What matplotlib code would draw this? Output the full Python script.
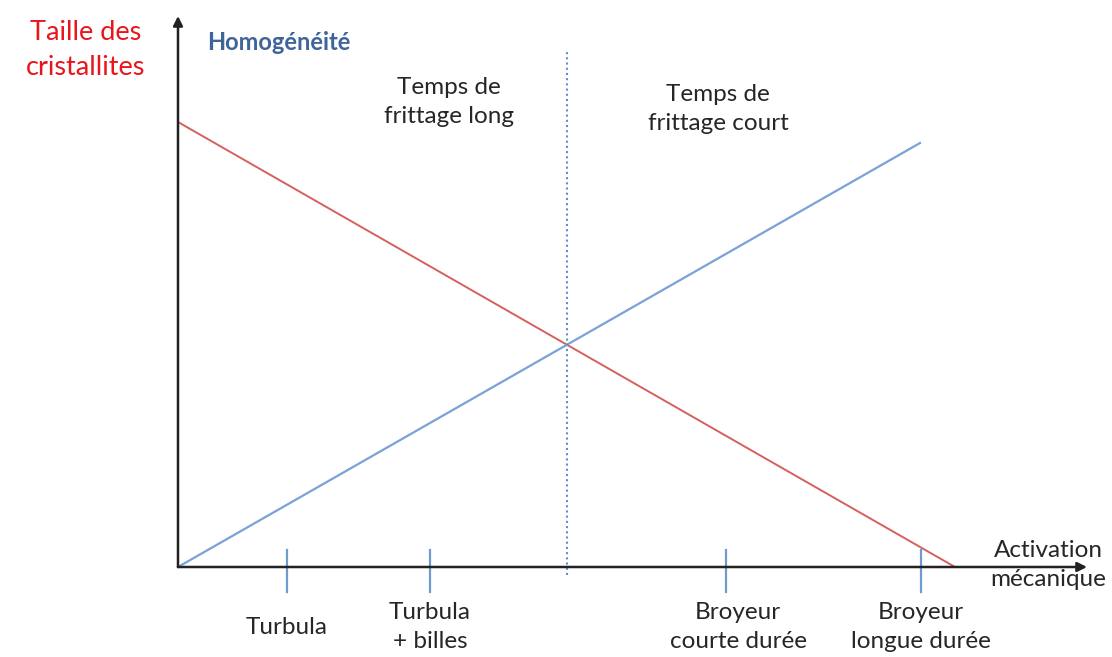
import matplotlib
matplotlib.use('Agg')
from matplotlib import pyplot as plt

plt.rcParams['font.family'] = ['Lato', 'DejaVu Sans']

# schematic data (origin of the axes at 0,0)
red_x = [0, 777]          # taille des cristallites
red_y = [445, 0]
blue_x = [0, 742]         # homogeneite
blue_y = [0, 424]
split_x = 389             # limite frittage long / court
tick_pos = [109, 252, 548, 743]
tick_labels = ['Turbula', 'Turbula\n+ billes', 'Broyeur\ncourte durée', 'Broyeur\nlongue durée']
label_offset = [0, 0, 12, 0]

fig = plt.figure(figsize=(11.12, 6.57), dpi=100)
ax = fig.add_axes([0, 0, 1, 1])
ax.set_xlim(-178, 934)
ax.set_ylim(-90, 567)
ax.axis('off')

# axes with arrows
ax.annotate('', xy=(909, 0), xytext=(0, 0),
            arrowprops=dict(arrowstyle='-|>', color='#222222', lw=1.8, mutation_scale=14, shrinkA=0, shrinkB=0))
ax.annotate('', xy=(0, 551), xytext=(0, 0),
            arrowprops=dict(arrowstyle='-|>', color='#222222', lw=1.8, mutation_scale=14, shrinkA=0, shrinkB=0))

ax.plot(red_x, red_y, color='#d4615c', lw=1.4)
ax.plot(blue_x, blue_y, color='#7aa2d6', lw=1.6)
ax.plot([split_x, split_x], [-8, 517], color='#5b8fd0', lw=1.5, ls=(0, (1, 1.5)))

fs = 17.5
for i, t in enumerate(tick_pos):
    ax.plot([t, t], [-25, 17], color='#6f9bd1', lw=1.6)
    ax.text(t + label_offset[i], -60, tick_labels[i], ha='center', va='center',
            fontsize=fs, color='#262626', linespacing=1.45)

ax.text(1048 - 178, 2, 'Activation\nmécanique', ha='center', va='center',
        fontsize=fs, color='#262626', linespacing=1.5)
ax.text(271, 465, 'Temps de\nfrittage long', ha='center', va='center',
        fontsize=fs, color='#262626', linespacing=1.45)
ax.text(540, 458, 'Temps de\nfrittage court', ha='center', va='center',
        fontsize=fs, color='#262626', linespacing=1.45)
ax.text(29, 524, 'Homogénéité', ha='left', va='center',
        fontsize=17, color='#3f6499', fontweight='bold')
ax.text(-92, 517, 'Taille des\ncristallites', ha='center', va='center',
        fontsize=19.5, color='#e8151b', linespacing=1.5)

plt.savefig('out.png', dpi=100)
